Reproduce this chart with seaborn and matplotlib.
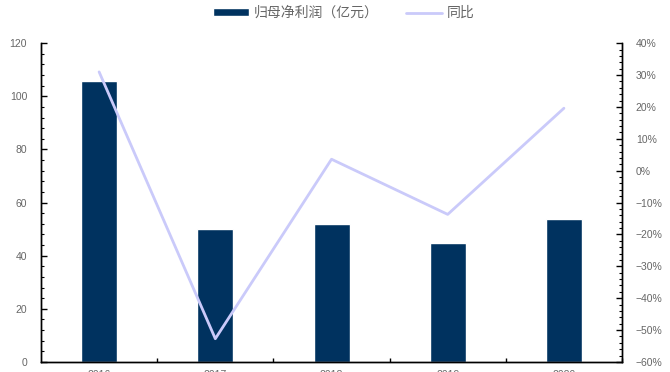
import numpy as np
import pandas as pd
import matplotlib
matplotlib.use("Agg")
import matplotlib.pyplot as plt
from matplotlib.ticker import MultipleLocator, FuncFormatter
import seaborn as sns

# Net profit attributable to parent (100 million yuan) and YoY growth (%)
years = ["2016", "2017", "2018", "2019", "2020"]
net_profit = [105.6, 50.0, 51.8, 44.7, 53.9]
yoy_pct = [31.0, -52.7, 3.6, -13.7, 19.6]

bar_color = "#00325F"
line_color = "#CACAFA"
text_color = "#666666"

sns.set_theme(style="white")
plt.rcParams["font.family"] = ["Liberation Sans", "Noto Sans CJK SC", "DejaVu Sans"]
plt.rcParams["axes.unicode_minus"] = True

df = pd.DataFrame({"year": years, "profit": net_profit, "yoy": yoy_pct,
                   "pos": np.arange(len(years))})

fig = plt.figure(figsize=(6.7, 3.72), dpi=100)
ax = fig.add_axes([0.0612, 0.0269, 0.8672, 0.857])

sns.barplot(data=df, x="year", y="profit", color=bar_color, width=0.31,
            saturation=1, ax=ax, label="归母净利润（亿元）")
ax.set_xlim(-0.5, len(years) - 0.5)
ax.set_ylim(0, 120)
ax.set_xlabel("")
ax.set_ylabel("")

ax2 = ax.twinx()
sns.lineplot(data=df, x="pos", y="yoy", color=line_color, linewidth=2.0,
             ax=ax2, label="同比", legend=False)
ax2.set_ylim(-60, 40)
ax2.set_xlim(-0.5, len(years) - 0.5)
ax2.set_ylabel("")
ax2.set_xlabel("")

# Axes styling
for a in (ax, ax2):
    a.spines["top"].set_visible(False)
    for s in ("left", "bottom", "right"):
        a.spines[s].set_color("black")
        a.spines[s].set_linewidth(1.0)
    a.grid(False)

ax.yaxis.set_major_locator(MultipleLocator(20))
ax.yaxis.set_minor_locator(MultipleLocator(4))
ax.tick_params(axis="y", which="major", direction="in", length=4, width=1,
               colors="black", labelcolor=text_color, labelsize=7.5, pad=10)
ax.tick_params(axis="y", which="minor", direction="in", length=2.5, width=0.8,
               colors="black", left=True)
ax.set_xticks(np.arange(len(years)) + 0.5, minor=False)
ax.set_xticks(np.arange(len(years)), minor=True)
ax.set_xticklabels([])
ax.tick_params(axis="x", which="major", direction="in", length=3, width=1,
               colors="black", bottom=True)
ax.tick_params(axis="x", which="minor", direction="in", length=0,
               labelcolor=text_color, labelsize=7.5, pad=6, bottom=True)
ax.set_xticklabels(years, minor=True)

ax2.yaxis.set_major_locator(MultipleLocator(10))
ax2.yaxis.set_minor_locator(MultipleLocator(2))
ax2.yaxis.set_major_formatter(FuncFormatter(lambda v, p: f"{v:.0f}%".replace("-", "\u2212")))
ax2.tick_params(axis="y", which="major", direction="in", length=4, width=1,
                colors="black", labelcolor=text_color, labelsize=7.5, pad=10)
ax2.tick_params(axis="y", which="minor", direction="in", length=2.5, width=0.8,
                colors="black", right=True)

# Legend across the top
h1, l1 = ax.get_legend_handles_labels()
h2, l2 = ax2.get_legend_handles_labels()
if ax.get_legend() is not None:
    ax.get_legend().remove()
fig.legend(h1 + h2, l1 + l2, loc="center", bbox_to_anchor=(0.513, 0.965),
           ncol=2, frameon=False, fontsize=10, handlelength=2.6,
           handleheight=0.5, columnspacing=2.0, handletextpad=0.35,
           labelcolor=text_color)

fig.savefig("out.png", dpi=100)
